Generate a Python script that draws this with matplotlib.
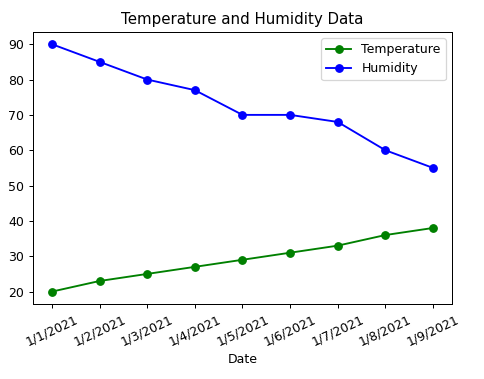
import matplotlib
matplotlib.use('Agg')
import matplotlib.pyplot as plt

dates = ['1/1/2021', '1/2/2021', '1/3/2021', '1/4/2021', '1/5/2021',
         '1/6/2021', '1/7/2021', '1/8/2021', '1/9/2021']
temperature = [20, 23, 25, 27, 29, 31, 33, 36, 38]
humidity = [90, 85, 80, 77, 70, 70, 68, 60, 55]

fig = plt.figure(figsize=(484 / 90, 379 / 90), dpi=90)
ax = fig.add_axes([0.068, 0.198, 0.866, 0.718])

ax.plot(dates, temperature, 'o-', color='green', label='Temperature')
ax.plot(dates, humidity, 'o-', color='blue', label='Humidity')

ax.set_xlabel('Date')
ax.set_title('Temperature and Humidity Data')
ax.legend()
plt.setp(ax.get_xticklabels(), rotation=25)

fig.savefig('out.png', dpi=90)
